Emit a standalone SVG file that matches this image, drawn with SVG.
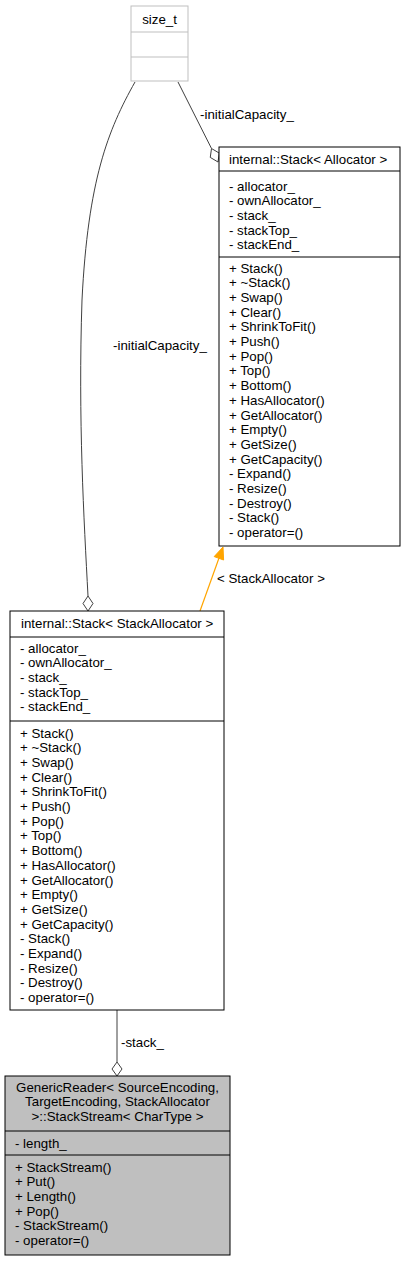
<svg xmlns="http://www.w3.org/2000/svg" width="405" height="1261" viewBox="0 0 405 1261">
<style>
text{font-family:"Liberation Sans",Arial,Helvetica,sans-serif;font-size:13.3px;fill:#000}
.c{text-anchor:middle}
.box{fill:#fff;stroke:#000;stroke-width:1}
.gbox{fill:#fff;stroke:#bfbfbf;stroke-width:1}
.cur{fill:#bfbfbf;stroke:#000;stroke-width:1}
.div{stroke:#000;stroke-width:1}
.gdiv{stroke:#bfbfbf;stroke-width:1}
.edge{fill:none;stroke:#404040;stroke-width:1}
.dia{fill:#fff;stroke:#404040;stroke-width:1}
.inh{fill:none;stroke:#ffa500;stroke-width:1.2}
.inhh{fill:#ffa500;stroke:#ffa500;stroke-width:1}
</style>
<rect width="405" height="1261" fill="#fff"/>
<g id="connectors">
  <path class="edge" d="M135,82 C108,130 88,180 82,300 C78,420 84,520 88,596"/>
  <polygon class="dia" points="88,596 93,603.5 88,611 83,603.5"/>
  <text x="113" y="349.5">-initialCapacity_</text>
  <path class="edge" d="M178,82 L211.5,148.5"/>
  <polygon class="dia" points="211.5,148.5 219.25,153.1 218,162 210.25,157.4"/>
  <text x="200" y="118.5">-initialCapacity_</text>
  <path class="inh" d="M200,611 L219,558"/>
  <polygon class="inhh" points="223,547 223.6,560 214.2,556.6"/>
  <text x="217" y="582.5">&lt; StackAllocator &gt;</text>
  <path class="edge" d="M117,1010 L117,1062"/>
  <polygon class="dia" points="117,1062 122,1069 117,1076 112,1069"/>
  <text x="121" y="1046.5">-stack_</text>
</g>
<g id="size_t">
  <rect class="gbox" x="131" y="6" width="57" height="75"/>
  <line class="gdiv" x1="131" y1="32" x2="188" y2="32"/>
  <line class="gdiv" x1="131" y1="57" x2="188" y2="57"/>
  <text class="c" x="159.5" y="23.5">size_t</text>
</g>
<g id="stack_allocator">
  <rect class="box" x="219" y="147" width="181" height="399"/>
  <line class="div" x1="219" y1="171" x2="400" y2="171"/>
  <line class="div" x1="219" y1="257" x2="400" y2="257"/>
  <text x="229" y="164">internal::Stack&lt; Allocator &gt;</text>
  <text x="229" y="190.5">- allocator_</text>
  <text x="229" y="205.2">- ownAllocator_</text>
  <text x="229" y="219.9">- stack_</text>
  <text x="229" y="234.6">- stackTop_</text>
  <text x="229" y="249.3">- stackEnd_</text>
  <text x="229" y="272.5">+ Stack()</text>
  <text x="229" y="287.2">+ ~Stack()</text>
  <text x="229" y="301.9">+ Swap()</text>
  <text x="229" y="316.6">+ Clear()</text>
  <text x="229" y="331.3">+ ShrinkToFit()</text>
  <text x="229" y="346">+ Push()</text>
  <text x="229" y="360.7">+ Pop()</text>
  <text x="229" y="375.4">+ Top()</text>
  <text x="229" y="390.1">+ Bottom()</text>
  <text x="229" y="404.8">+ HasAllocator()</text>
  <text x="229" y="419.5">+ GetAllocator()</text>
  <text x="229" y="434.2">+ Empty()</text>
  <text x="229" y="448.9">+ GetSize()</text>
  <text x="229" y="463.6">+ GetCapacity()</text>
  <text x="229" y="478.3">- Expand()</text>
  <text x="229" y="493">- Resize()</text>
  <text x="229" y="507.7">- Destroy()</text>
  <text x="229" y="522.4">- Stack()</text>
  <text x="229" y="537.1">- operator=()</text>
</g>
<g id="stack_stackallocator">
  <rect class="box" x="10" y="611" width="214" height="399"/>
  <line class="div" x1="10" y1="637" x2="224" y2="637"/>
  <line class="div" x1="10" y1="721" x2="224" y2="721"/>
  <text x="21" y="627.5">internal::Stack&lt; StackAllocator &gt;</text>
  <text x="20" y="652.5">- allocator_</text>
  <text x="20" y="667.2">- ownAllocator_</text>
  <text x="20" y="681.9">- stack_</text>
  <text x="20" y="696.6">- stackTop_</text>
  <text x="20" y="711.3">- stackEnd_</text>
  <text x="20" y="737.5">+ Stack()</text>
  <text x="20" y="752.2">+ ~Stack()</text>
  <text x="20" y="766.9">+ Swap()</text>
  <text x="20" y="781.6">+ Clear()</text>
  <text x="20" y="796.3">+ ShrinkToFit()</text>
  <text x="20" y="811">+ Push()</text>
  <text x="20" y="825.7">+ Pop()</text>
  <text x="20" y="840.4">+ Top()</text>
  <text x="20" y="855.1">+ Bottom()</text>
  <text x="20" y="869.8">+ HasAllocator()</text>
  <text x="20" y="884.5">+ GetAllocator()</text>
  <text x="20" y="899.2">+ Empty()</text>
  <text x="20" y="913.9">+ GetSize()</text>
  <text x="20" y="928.6">+ GetCapacity()</text>
  <text x="20" y="943.3">- Stack()</text>
  <text x="20" y="958">- Expand()</text>
  <text x="20" y="972.7">- Resize()</text>
  <text x="20" y="987.4">- Destroy()</text>
  <text x="20" y="1002.1">- operator=()</text>
</g>
<g id="stackstream">
  <rect class="cur" x="5" y="1076" width="225" height="179"/>
  <line class="div" x1="5" y1="1131" x2="230" y2="1131"/>
  <line class="div" x1="5" y1="1155" x2="230" y2="1155"/>
  <text class="c" x="117.5" y="1091.5">GenericReader&lt; SourceEncoding,</text>
  <text class="c" x="117.5" y="1106.2">TargetEncoding, StackAllocator</text>
  <text class="c" x="117.5" y="1120.9">&gt;::StackStream&lt; CharType &gt;</text>
  <text x="15" y="1147.5">- length_</text>
  <text x="15" y="1171.5">+ StackStream()</text>
  <text x="15" y="1186.2">+ Put()</text>
  <text x="15" y="1200.9">+ Length()</text>
  <text x="15" y="1215.6">+ Pop()</text>
  <text x="15" y="1230.3">- StackStream()</text>
  <text x="15" y="1245">- operator=()</text>
</g>
</svg>
